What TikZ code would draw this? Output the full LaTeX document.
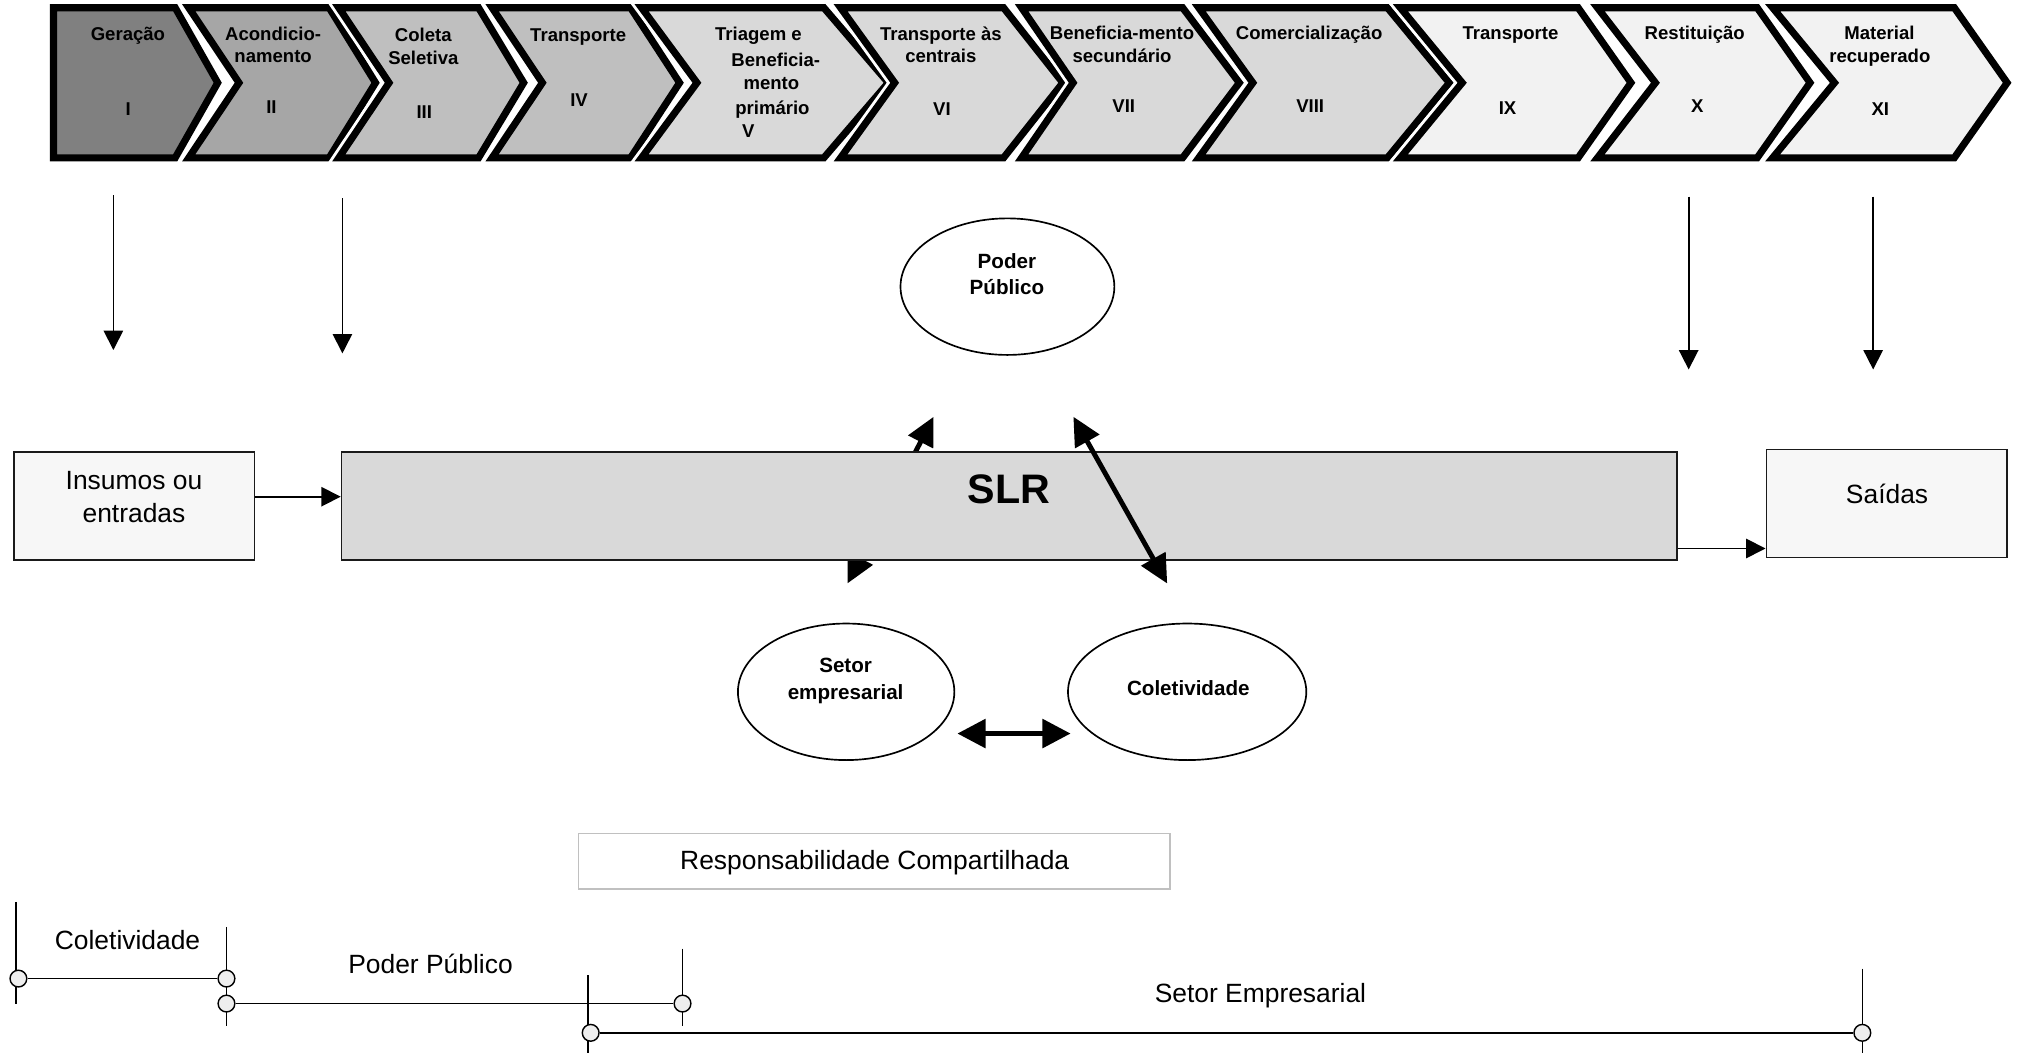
\documentclass[tikz,border=0pt]{standalone}
\usepackage{fontspec}
\setmainfont{Liberation Sans}
\usetikzlibrary{arrows.meta,shapes.geometric,calc}

\definecolor{shadeA}{HTML}{808080}
\definecolor{shadeB}{HTML}{A6A6A6}
\definecolor{shadeC}{HTML}{BFBFBF}
\definecolor{shadeD}{HTML}{D9D9D9}
\definecolor{shadeE}{HTML}{F2F2F2}
\definecolor{boxfill}{HTML}{F7F7F7}
\definecolor{slrfill}{HTML}{D9D9D9}
\definecolor{boxline}{HTML}{1A1A1A}
\definecolor{dotfill}{HTML}{EEEEEE}
\definecolor{respline}{HTML}{C0C0C0}

\newcommand\chevfont{\fontsize{14.4}{17}\selectfont\bfseries}
\newcommand\regfont{\fontsize{20.5}{24}\selectfont}
\newcommand\ovalfont{\fontsize{16}{20}\selectfont\bfseries}
\newcommand\slrfont{\fontsize{32}{36}\selectfont\bfseries}

% one step of the chain: left x, right x, notch depth, tip depth, fill
\newcommand\chevshape[5]{%
  \path[draw=white,line width=10pt,line join=miter]
    (#1,6) -- (#2,6) -- ({#2+#4},64.25) -- (#2,122.5) -- (#1,122.5) -- ({#1+#3},64.25) -- cycle;
  \path[draw=black,fill=#5,line width=5.5pt,line join=miter]
    (#1,6) -- (#2,6) -- ({#2+#4},64.25) -- (#2,122.5) -- (#1,122.5) -- ({#1+#3},64.25) -- cycle;
}

\begin{document}
\begin{tikzpicture}[x=1pt,y=-1pt,
  ctext/.style={font=\chevfont,anchor=base,inner sep=0pt},
  rtext/.style={font=\regfont,anchor=base,inner sep=0pt},
  otext/.style={font=\ovalfont,anchor=base,inner sep=0pt},
  box/.style={draw=boxline,line width=1.3pt,rectangle,inner sep=0pt},
  oval/.style={draw=black,line width=1.3pt,ellipse,inner sep=0pt,fill=white},
  thinarrow/.style={line width=1.3pt,-{Triangle[length=15pt,width=15pt]}},
  thickarrow/.style={line width=3.8pt,{Triangle[length=22pt,width=21pt]}-{Triangle[length=22pt,width=21pt]}},
  tick/.style={line width=1.1pt},
  span/.style={line width=1.4pt},
  dot/.style={circle,draw=black,fill=dotfill,line width=1.1pt,minimum size=13pt,inner sep=0pt}
]
\useasboundingbox[fill=white] (0,0) rectangle (1568,817);

% chain of stages
\chevshape{41.5}{136}{0}{33}{shadeA}
\chevshape{146.5}{255.5}{39}{36}{shadeB}
\chevshape{263}{371.5}{39}{35}{shadeC}
\chevshape{382}{489.5}{39}{38}{shadeC}
\chevshape{498}{639.5}{43}{50}{shadeD}
\chevshape{652.5}{779}{42}{46}{shadeD}
\chevshape{793}{918}{40}{44}{shadeD}
\chevshape{930.5}{1077}{42}{48}{shadeD}
\chevshape{1087}{1225}{48}{41}{shadeE}
\chevshape{1240}{1364}{45}{41}{shadeE}
\chevshape{1376}{1517}{48}{41}{shadeE}

% stage labels
\node[ctext] (s1a) at (99.3,31.1) {Geração};
\node[ctext] (s1n) at (99.5,89.3) {I};
\node[ctext] (s2a) at (212,31.1) {Acondicio-};
\node[ctext] (s2b) at (212,48.7) {namento};
\node[ctext] (s2n) at (210.7,88) {II};
\node[ctext] (s3a) at (328.6,32.4) {Coleta};
\node[ctext] (s3b) at (328.6,49.7) {Seletiva};
\node[ctext] (s3n) at (329.3,91.9) {III};
\node[ctext] (s4a) at (448.8,31.9) {Transporte};
\node[ctext] (s4n) at (449.5,82.3) {IV};
\node[ctext] (s5a) at (588.7,31.1) {Triagem e};
\node[ctext] (s5b) at (602.2,51.8) {Beneficia-};
\node[ctext] (s5c) at (598.8,69.4) {mento};
\node[ctext] (s5d) at (599.6,88.5) {primário};
\node[ctext] (s5n) at (580.8,106.7) {V};
\node[ctext] (s6a) at (730.3,31.1) {Transporte às};
\node[ctext] (s6b) at (730.3,48.7) {centrais};
\node[ctext] (s6n) at (731.2,89.3) {VI};
\node[ctext] (s7a) at (871,30.6) {Beneficia-mento};
\node[ctext] (s7b) at (871,48.7) {secundário};
\node[ctext] (s7n) at (872.3,87.5) {VII};
\node[ctext] (s8a) at (1016.2,30.6) {Comercialização};
\node[ctext] (s8n) at (1017,87.5) {VIII};
\node[ctext] (s9a) at (1172.5,30.6) {Transporte};
\node[ctext] (s9n) at (1170.2,88.5) {IX};
\node[ctext] (s10a) at (1315.5,30.6) {Restituição};
\node[ctext] (s10n) at (1317.5,87.5) {X};
\node[ctext] (s11a) at (1458.9,30.6) {Material};
\node[ctext] (s11b) at (1459.2,48.7) {recuperado};
\node[ctext] (s11n) at (1459.6,89.3) {XI};

% downward pointers under the chain
\coordinate (p1s) at (88,151.4);     \coordinate (p1e) at (88,271.7);
\coordinate (p2s) at (265.8,154);    \coordinate (p2e) at (265.8,274.3);
\coordinate (p3s) at (1310.8,152.7); \coordinate (p3e) at (1310.8,286.8);
\coordinate (p4s) at (1454,152.7);   \coordinate (p4e) at (1454,286.8);
\draw[thinarrow] (p1s) -- (p1e);
\draw[thinarrow] (p2s) -- (p2e);
\draw[thinarrow] (p3s) -- (p3e);
\draw[thinarrow] (p4s) -- (p4e);

% actors
\node[oval,minimum width=166pt,minimum height=106pt] (pp) at (782,222.5) {};
\node[otext] (ppa) at (781.6,208.1) {Poder};
\node[otext] (ppb) at (781.6,228.7) {Público};
\node[oval,minimum width=168pt,minimum height=106pt] (se) at (656.8,537) {};
\node[otext] (sea) at (656.4,522) {Setor};
\node[otext] (seb) at (656.4,542.7) {empresarial};
\node[oval,minimum width=185pt,minimum height=106pt] (co) at (921.5,537) {};
\node[otext] (coa) at (922.4,540.1) {Coletividade};

% link between the business sector and the public power, passing behind the system bar
\coordinate (l1a) at (657.8,452.9);
\coordinate (l1b) at (724.7,323.5);
\draw[thickarrow] (l1a) -- (l1b);

% system bar with inputs and outputs
\node[box,fill=boxfill,minimum width=186.5pt,minimum height=84.1pt] (ins) at (104.35,392.75) {};
\node[rtext] (insa) at (104,380) {Insumos ou};
\node[rtext] (insb) at (104,405.8) {entradas};
\node[box,fill=slrfill,minimum width=1036.7pt,minimum height=84.1pt] (slr) at (783.45,392.75) {};
\node[font=\slrfont,anchor=base,inner sep=0pt] (slrt) at (783.2,390.6) {SLR};
\node[box,fill=boxfill,minimum width=186.9pt,minimum height=83.9pt] (sai) at (1464.55,390.75) {};
\node[rtext] (saia) at (1464.8,390.8) {Saídas};
\draw[thinarrow] ([yshift=7.2pt]ins.east) -- ([yshift=7.2pt]ins.east -| slr.west);
\draw[thinarrow] ([yshift=-33pt]slr.east) -- ([yshift=-33pt]slr.east -| sai.west);

% link between the community and the public power, in front of the bar
\coordinate (l2a) at (833.2,323.5);
\coordinate (l2b) at (906,452.9);
\draw[thickarrow] (l2a) -- (l2b);

% link between the business sector and the community
\draw[line width=4pt,{Triangle[length=22pt,width=22pt]}-{Triangle[length=22pt,width=22pt]}]
  ([yshift=-32.4pt,xshift=1.7pt]se.east) -- ([yshift=-32.4pt,xshift=2.7pt]se.east -| co.west);

% shared responsibility
\node[draw=respline,line width=1.2pt,fill=white,minimum width=459pt,minimum height=43pt,inner sep=0pt] (resp) at (678.5,668.5) {};
\node[rtext] (respt) at (679,675.3) {Responsabilidade Compartilhada};

% responsibility spans
\draw[tick] (12.4,700) -- (12.4,779.5);
\draw[tick] (175.8,719.5) -- (175.8,796.6);
\draw[tick] (529.8,736.3) -- (529.8,796.6);
\draw[tick] (456.5,757) -- (456.5,817.8);
\draw[tick] (1445.6,751.8) -- (1445.6,817.8);
\node[dot] (c1) at (14.3,759.6) {};
\node[dot] (c2) at (175.8,759.6) {};
\node[dot] (c3) at (175.8,779) {};
\node[dot] (c4) at (529.8,779) {};
\node[dot] (c5) at (458.5,801.7) {};
\node[dot] (c6) at (1445.6,801.7) {};
\draw[span] (c1) -- (c2);
\draw[span] (c3) -- (c4);
\draw[span] (c5) -- (c6);
\node[rtext] (lc) at (99,737.3) {Coletividade};
\node[rtext] (lp) at (334.2,755.3) {Poder Público};
\node[rtext] (ls) at (978.4,778.5) {Setor Empresarial};
\end{tikzpicture}
\end{document}
